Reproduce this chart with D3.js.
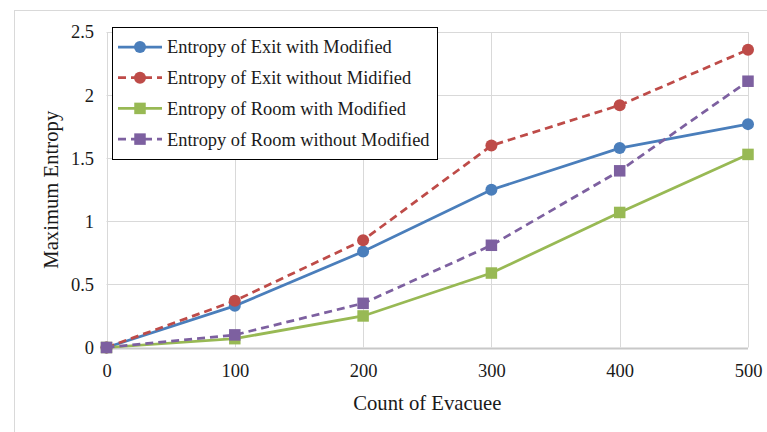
<!DOCTYPE html>
<html>
<head>
<meta charset="utf-8">
<script src="https://cdn.jsdelivr.net/npm/d3@7"></script>
<style>
  html, body { margin: 0; padding: 0; background: #fff; }
  svg { display: block; }
  text { font-family: "Liberation Serif", "Times New Roman", serif; fill: #1a1a1a; }
</style>
</head>
<body>
<svg id="chart" width="767" height="432"></svg>
<script>
// Evacuee counts along the x axis
const counts = [0, 100, 200, 300, 400, 500];

// Maximum entropy values per series
const exitWithModified = [0, 0.33, 0.76, 1.25, 1.58, 1.77];
const exitWithoutModified = [0, 0.37, 0.85, 1.60, 1.92, 2.36];
const roomWithModified = [0, 0.07, 0.25, 0.59, 1.07, 1.53];
const roomWithoutModified = [0, 0.10, 0.35, 0.81, 1.40, 2.11];

const seriesNames = [
  "Entropy of Exit with Modified",
  "Entropy of Exit without Midified",
  "Entropy of Room with Modified",
  "Entropy of Room without Modified"
];

const xTicks = [0, 100, 200, 300, 400, 500];
const yTicks = [0, 0.5, 1, 1.5, 2, 2.5];

const series = [
  { name: seriesNames[0], values: exitWithModified, color: "#4a7ebb", dashed: false, marker: "circle" },
  { name: seriesNames[1], values: exitWithoutModified, color: "#be4b48", dashed: true, marker: "circle" },
  { name: seriesNames[2], values: roomWithModified, color: "#98b954", dashed: false, marker: "square" },
  { name: seriesNames[3], values: roomWithoutModified, color: "#7d60a0", dashed: true, marker: "square" }
];

const svg = d3.select("#chart");

// outer chart frame
svg.append("rect")
  .attr("x", 14.5).attr("y", 10.5)
  .attr("width", 800).attr("height", 500)
  .attr("fill", "none").attr("stroke", "#d9d9d9").attr("stroke-width", 1);

const plot = { left: 106.5, right: 748, top: 32, bottom: 347.5 };

const x = d3.scaleLinear().domain([0, 500]).range([plot.left, plot.right]);
const y = d3.scaleLinear().domain([0, 2.5]).range([plot.bottom, plot.top]);

// gridlines
const grid = svg.append("g");
grid.selectAll("line.h").data(yTicks).join("line")
  .attr("x1", plot.left).attr("x2", plot.right)
  .attr("y1", d => Math.round(y(d)) + 0.5).attr("y2", d => Math.round(y(d)) + 0.5)
  .attr("stroke", d => d === 0 ? "#c8c8c8" : "#d9d9d9").attr("stroke-width", d => d === 0 ? 2 : 1);
grid.selectAll("line.v").data(xTicks).join("line")
  .attr("y1", plot.top).attr("y2", plot.bottom)
  .attr("x1", d => Math.round(x(d)) + 0.5).attr("x2", d => Math.round(x(d)) + 0.5)
  .attr("stroke", "#d9d9d9").attr("stroke-width", 1);

// axes (labels only, Excel style)
const xAxis = d3.axisBottom(x).tickValues(xTicks).tickSize(0).tickPadding(16).tickFormat(d3.format("d"));
const yAxis = d3.axisLeft(y).tickValues(yTicks).tickSize(0).tickPadding(12.5).tickFormat(d => d3.format("")(d));

const gx = svg.append("g").attr("transform", `translate(0,${plot.bottom})`).call(xAxis);
const gy = svg.append("g").attr("transform", `translate(${plot.left},0)`).call(yAxis);
[gx, gy].forEach(g => {
  g.attr("font-size", null).attr("font-family", null);
  g.select(".domain").remove();
  g.selectAll("text").style("font-family", "'Liberation Serif', serif").style("font-size", "18.5px").attr("fill", "#1a1a1a");
});

// axis titles
svg.append("text")
  .attr("x", (plot.left + plot.right) / 2).attr("y", 410)
  .attr("text-anchor", "middle").style("font-size", "20.7px")
  .text("Count of Evacuee");
svg.append("text")
  .attr("transform", `translate(58,${(plot.top + plot.bottom) / 2}) rotate(-90)`)
  .attr("text-anchor", "middle").style("font-size", "20.7px")
  .text("Maximum Entropy");

// series lines and markers
const line = d3.line().x((d, i) => x(counts[i])).y(d => y(d));

function drawMarker(g, type, cx, cy, color) {
  if (type === "circle") {
    g.append("circle").attr("cx", cx).attr("cy", cy).attr("r", 6).attr("fill", color);
  } else {
    g.append("rect").attr("x", cx - 5.75).attr("y", cy - 5.75).attr("width", 11.5).attr("height", 11.5).attr("fill", color);
  }
}

series.forEach(s => {
  const g = svg.append("g");
  g.append("path").datum(s.values)
    .attr("d", line)
    .attr("fill", "none").attr("stroke", s.color).attr("stroke-width", 2.75)
    .attr("stroke-dasharray", s.dashed ? "8,5" : null);
  s.values.forEach((v, i) => drawMarker(g, s.marker, x(counts[i]), y(v), s.color));
});

// legend
const legend = svg.append("g");
legend.append("rect")
  .attr("x", 112.5).attr("y", 27.5).attr("width", 325).attr("height", 132)
  .attr("fill", "#fff").attr("stroke", "#000").attr("stroke-width", 1);
series.forEach((s, i) => {
  const ly = 47 + i * 30.7;
  const lg = legend.append("g");
  lg.append("line")
    .attr("x1", 118).attr("x2", 162).attr("y1", ly).attr("y2", ly)
    .attr("stroke", s.color).attr("stroke-width", 2.75)
    .attr("stroke-dasharray", s.dashed ? "8,5" : null);
  drawMarker(lg, s.marker, 140, ly, s.color);
  lg.append("text")
    .attr("x", 167).attr("y", ly).attr("dy", "0.35em")
    .style("font-size", "18.4px")
    .text(s.name);
});
</script>
</body>
</html>
